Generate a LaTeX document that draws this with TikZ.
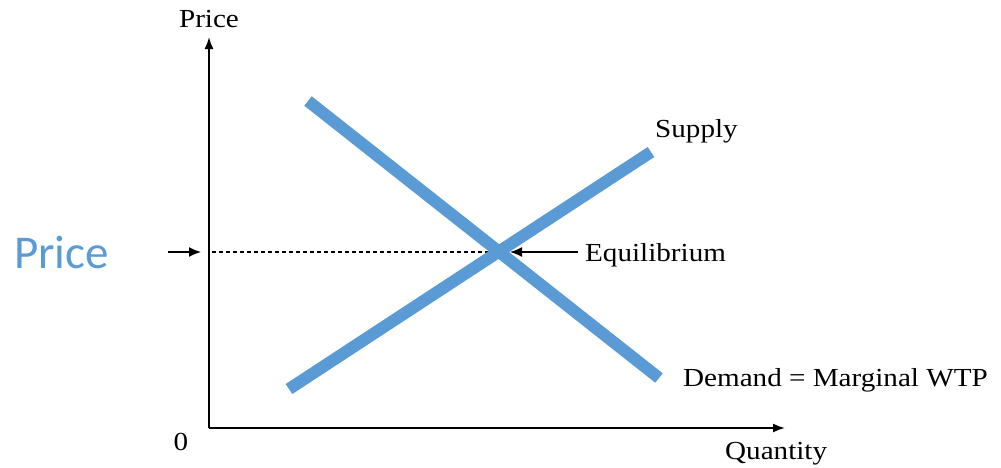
\documentclass[tikz,border=0pt]{standalone}
\usepackage{fontspec}
\setmainfont{Liberation Serif}
\newfontfamily\figfont[FakeStretch=1.12]{Liberation Serif}
\newfontfamily\blufont{Carlito}
\usetikzlibrary{arrows.meta}
\definecolor{curveblue}{HTML}{5B9BD5}
\begin{document}
\begin{tikzpicture}[x=1pt,y=-1pt,
  axis/.style={line width=1.8pt,-{Latex[length=12pt,width=9pt]}},
  curve/.style={line width=12pt,curveblue,line cap=butt},
  lbl/.style={font=\figfont\fontsize{26}{28}\selectfont,inner sep=0pt,text=black},
  pointer/.style={line width=1.5pt,-{Latex[length=12pt,width=10pt]}}]
\useasboundingbox[fill=white] (0,0) rectangle (1001,467);
% axes
\coordinate (o) at (209,428);
\coordinate (ytop) at (209,37);
\coordinate (xend) at (785,428);
\draw[axis] (o) -- (ytop);
\draw[axis] (o) -- (xend);
\node[lbl,anchor=base] (ylab) at (209,27) {Price};
\node[lbl,anchor=base west] (xlab) at (725,459) {Quantity};
\node[lbl,anchor=base] (zero) at (181,450) {0};
% price level
\coordinate (eq) at (497,252);
\coordinate (pa) at (168,252);
\coordinate (pb) at (201,252);
\coordinate (pd) at (212,252);
\draw[pointer] (pa) -- (pb);
\draw[line width=1.2pt,dash pattern=on 3.5pt off 3.5pt] (pd) -- (eq);
% curves
\coordinate (d1) at (308,101);
\coordinate (d2) at (659,378);
\coordinate (s1) at (289,389);
\coordinate (s2) at (651,152);
\draw[curve] (d1) -- (d2);
\draw[curve] (s1) -- (s2);
% labels
\node[lbl,anchor=base west] (sup) at (655,137) {Supply};
\node[lbl,anchor=base west] (equ) at (585,261) {Equilibrium};
\node[lbl,anchor=base west] (dem) at (683,386) {Demand = Marginal WTP};
\coordinate (eqtip) at (510,252);
\coordinate (eqtail) at (578,252);
\draw[pointer] (eqtail) -- (eqtip);
\node[anchor=base west,inner sep=0pt,text=curveblue,font=\blufont\fontsize{47}{50}\selectfont] (bp) at (14,268) {Price};
\end{tikzpicture}
\end{document}
